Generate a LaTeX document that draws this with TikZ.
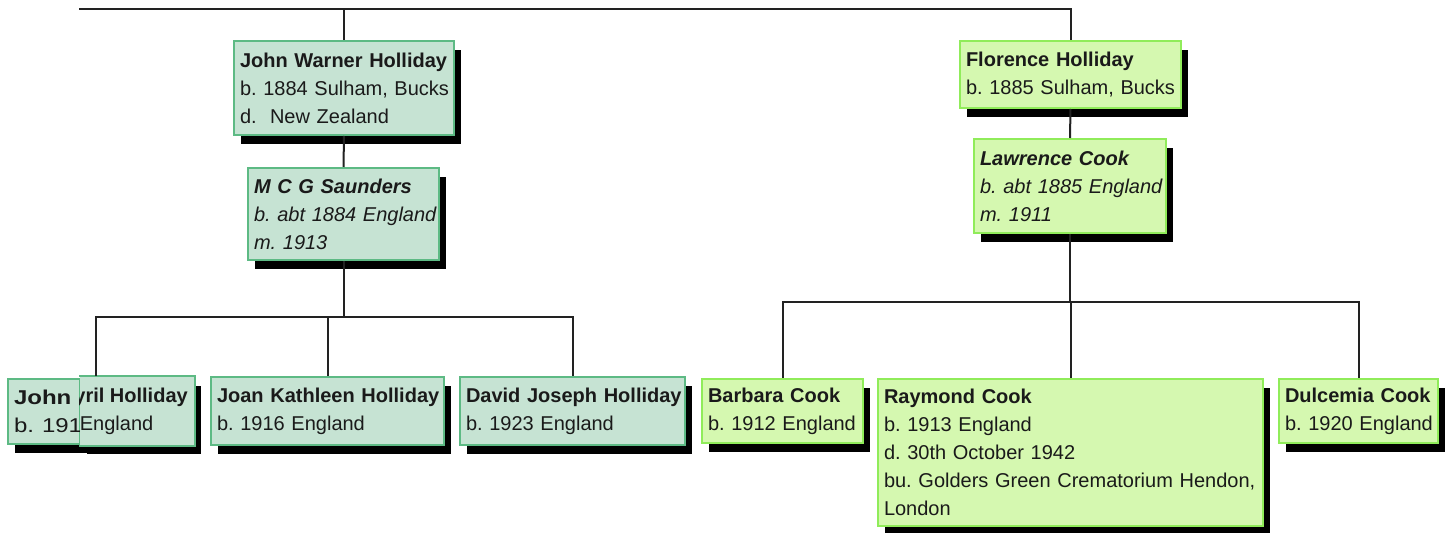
\documentclass[tikz,border=0pt]{standalone}
\usepackage{fontspec}
\setmainfont{Liberation Sans}
\usetikzlibrary{shadows}
\definecolor{lgf}{RGB}{198,227,211}
\definecolor{lgb}{RGB}{93,186,132}
\definecolor{rgf}{RGB}{213,248,176}
\definecolor{rgb}{RGB}{144,236,90}
\definecolor{txt}{RGB}{26,26,26}
\definecolor{ln}{RGB}{34,34,34}
\newcommand{\rowtxt}[1]{\mbox{#1}}
\frenchspacing
\begin{document}
\begin{tikzpicture}[x=0.5pt,y=-0.5pt,
  boxbase/.style={anchor=north west, line width=1pt, inner xsep=3pt, inner ysep=0pt,
    align=left, text=txt, font=\fontsize{10}{14}\selectfont,
    general shadow={fill=black, shadow xshift=3.5pt, shadow yshift=-4.5pt}},
  lbox/.style={boxbase, draw=lgb, fill=lgf},
  rbox/.style={boxbase, draw=rgb, fill=rgf},
  conn/.style={draw=ln, line width=1pt},
  plain/.style={inner sep=0pt, text=txt, font=\fontsize{10}{14}\selectfont}]
\useasboundingbox[fill=white] (0,0) rectangle (1453,533);

% left family
\node[lbox, text width=104pt, minimum height=47pt] (jwh) at (233,40)
  {\rowtxt{\bfseries John Warner Holliday}\\\rowtxt{b. 1884 Sulham, Bucks}\\\rowtxt{d.\ \ New Zealand}};
\node[lbox, text width=89.5pt, minimum height=46pt] (sau) at (247,167)
  {\rowtxt{\bfseries\itshape M C G Saunders}\\\rowtxt{\itshape b. abt 1884 England}\\\rowtxt{\itshape m. 1913}};

\node[lbox, text width=30pt, minimum height=32.5pt] (jcA) at (7,378)
  {\rowtxt{\scalebox{1.2}[1]{\bfseries John}}\\\rowtxt{\scalebox{1.2}[1]{b. 191}}};
\node[boxbase, fill=lgf, minimum width=57pt, minimum height=34pt] (jcB) at (79,376) {};
\draw[lgb, line width=1pt] (jcB.north west) -- (jcB.north east) -- (jcB.south east) -- (jcB.south west);
\begin{scope}
  \clip (jcB.north west) rectangle (jcB.south east);
  \node[plain, anchor=base west] (jcB1) at (74,403) {\bfseries yril Holliday};
  \node[plain, anchor=base west] (jcB2) at (79.5,431) {England};
\end{scope}

\node[lbox, text width=110.5pt, minimum height=34pt] (joan) at (210,376)
  {\rowtxt{\bfseries Joan Kathleen Holliday}\\\rowtxt{b. 1916 England}};
\node[lbox, text width=106.5pt, minimum height=34pt] (david) at (459,376)
  {\rowtxt{\bfseries David Joseph Holliday}\\\rowtxt{b. 1923 England}};

% right family
\node[rbox, text width=104.5pt, minimum height=33.5pt] (flo) at (959,40)
  {\rowtxt{\bfseries Florence Holliday}\\\rowtxt{b. 1885 Sulham, Bucks}};
\node[rbox, text width=90pt, minimum height=47pt] (law) at (973,138)
  {\rowtxt{\bfseries\itshape Lawrence Cook}\\\rowtxt{\itshape b. abt 1885 England}\\\rowtxt{\itshape m. 1911}};
\node[rbox, text width=74.5pt, minimum height=32pt] (barb) at (701,378)
  {\rowtxt{\bfseries Barbara Cook}\\\rowtxt{b. 1912 England}};
\node[rbox, text width=186.5pt, minimum height=73.5pt] (ray) at (877,378)
  {\rowtxt{\bfseries Raymond Cook}\\\rowtxt{b. 1913 England}\\\rowtxt{d. 30th October 1942}\\\rowtxt{bu. Golders Green Crematorium Hendon,}\\\rowtxt{London}};
\node[rbox, text width=73.5pt, minimum height=32pt] (dul) at (1278,378)
  {\rowtxt{\bfseries Dulcemia Cook}\\\rowtxt{b. 1920 England}};

% connectors
\coordinate (topL) at (79,9);
\draw[conn] (topL) -| (flo.north);
\draw[conn] (jwh.north) -- (jwh.north |- topL);
\draw[conn] (jwh.south) -- (sau.north);
\draw[conn] (flo.south) -- (law.north);

\coordinate (yL) at (0,317);
\coordinate (busL) at (sau.south |- yL);
\coordinate (jcT) at (96,376);
\draw[conn] (sau.south) -- (busL);
\draw[conn] (jcT) |- (busL) -| (david.north);
\draw[conn] (joan.north) -- (joan.north |- busL);

\coordinate (yR) at (0,302);
\coordinate (busR) at (law.south |- yR);
\draw[conn] (law.south) -- (busR);
\draw[conn] (barb.north) |- (busR) -| (dul.north);
\draw[conn] (ray.north) -- (ray.north |- busR);
\end{tikzpicture}
\end{document}
